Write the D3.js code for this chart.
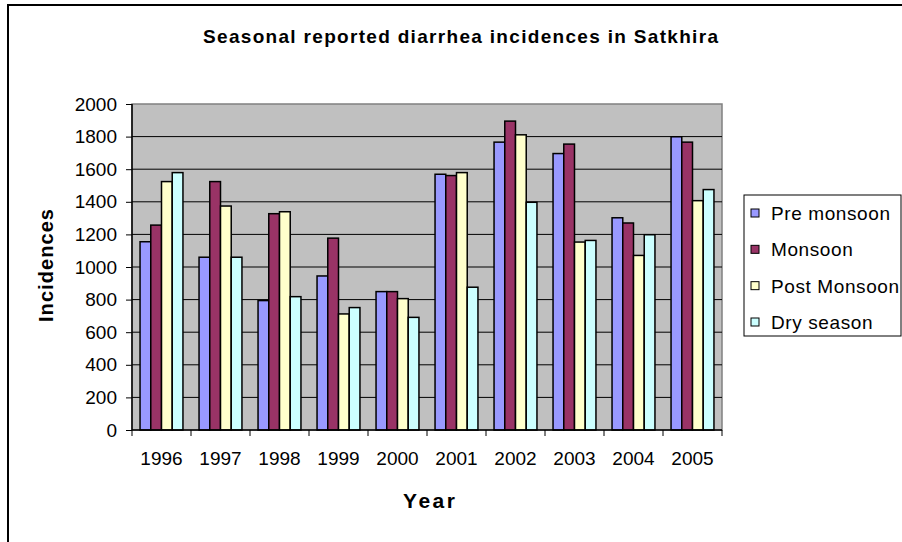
<!DOCTYPE html>
<html>
<head>
<meta charset="utf-8">
<script src="https://cdn.jsdelivr.net/npm/d3@7"></script>
<style>
  html, body { margin: 0; padding: 0; background: #fff; }
  svg { display: block; font-family: "Liberation Sans", Arial, sans-serif; }
</style>
</head>
<body>
<svg id="chart" width="902" height="542"></svg>
<script>
// Seasonal reported diarrhea incidences, Satkhira, 1996-2005
const years = ["1996","1997","1998","1999","2000","2001","2002","2003","2004","2005"];
const seriesNames = ["Pre monsoon", "Monsoon", "Post Monsoon", "Dry season"];
const preMonsoon  = [1155, 1060,  794,  945, 849, 1569, 1766, 1696, 1302, 1799];
const monsoon     = [1257, 1524, 1327, 1177, 849, 1561, 1895, 1754, 1270, 1766];
const postMonsoon = [1524, 1374, 1339,  712, 806, 1579, 1811, 1153, 1071, 1407];
const drySeason   = [1579, 1060,  818,  751, 691,  876, 1397, 1163, 1198, 1475];
const yTicks = [0, 200, 400, 600, 800, 1000, 1200, 1400, 1600, 1800, 2000];
const colors = ["#9999FF", "#993366", "#FFFFCC", "#CCFFFF"];

const seriesValues = [preMonsoon, monsoon, postMonsoon, drySeason];

const svg = d3.select("#chart");

// outer chart frame
svg.append("rect")
  .attr("x", 8).attr("y", 5).attr("width", 1200).attr("height", 1200)
  .attr("fill", "#fff").attr("stroke", "#000").attr("stroke-width", 2);

const plot = { left: 132, right: 722, top: 104, bottom: 430 };

const x = d3.scaleBand().domain(years).range([plot.left, plot.right]).padding(0);
const step = x.bandwidth();
const barW = step / 5.5;               // gap of 1.5 bar widths between groups
const xs = d3.scaleBand().domain(d3.range(4))
  .range([barW * 0.75, step - barW * 0.75]).padding(0);
const y = d3.scaleLinear().domain([0, 2000]).range([plot.bottom, plot.top]);

// plot area
svg.append("rect")
  .attr("x", plot.left).attr("y", plot.top)
  .attr("width", plot.right - plot.left).attr("height", plot.bottom - plot.top)
  .attr("fill", "#C0C0C0").attr("stroke", "#808080").attr("stroke-width", 1.5);

// gridlines
svg.append("g").selectAll("line")
  .data(yTicks.filter(v => v > 0 && v < 2000))
  .join("line")
  .attr("x1", plot.left).attr("x2", plot.right)
  .attr("y1", d => y(d)).attr("y2", d => y(d))
  .attr("stroke", "#000").attr("stroke-width", 1);

// bars
const groups = svg.append("g").selectAll("g")
  .data(years)
  .join("g")
  .attr("transform", d => `translate(${x(d)},0)`);

groups.selectAll("rect")
  .data((d, i) => seriesValues.map((vals, s) => ({ s, v: vals[i] })))
  .join("rect")
  .attr("x", d => xs(d.s))
  .attr("width", xs.bandwidth())
  .attr("y", d => y(d.v))
  .attr("height", d => y(0) - y(d.v))
  .attr("fill", d => colors[d.s])
  .attr("stroke", "#000")
  .attr("stroke-width", 1.5);

// y axis
const yAxis = svg.append("g")
  .attr("transform", `translate(${plot.left},0)`)
  .call(d3.axisLeft(y).tickValues(yTicks).tickSize(6).tickPadding(9).tickFormat(d3.format("d")));
yAxis.select(".domain").attr("stroke", "#000").attr("stroke-width", 1.5).attr("d", `M0,${plot.top}V${plot.bottom}`);
yAxis.selectAll(".tick line").attr("stroke", "#000");
yAxis.selectAll(".tick text")
  .attr("font-size", 19).attr("fill", "#000")
  .attr("font-family", "'Liberation Sans', Arial, sans-serif");

// x axis
const xAxis = svg.append("g")
  .attr("transform", `translate(0,${plot.bottom})`)
  .call(d3.axisBottom(x).tickSize(0).tickPadding(22));
xAxis.select(".domain").attr("stroke", "#000").attr("stroke-width", 1.5).attr("d", `M${plot.left},0H${plot.right}`);
xAxis.selectAll(".tick text")
  .attr("font-size", 19).attr("fill", "#000")
  .attr("font-family", "'Liberation Sans', Arial, sans-serif");

// category boundary ticks
svg.append("g").selectAll("line")
  .data(years.concat(["end"]))
  .join("line")
  .attr("x1", (d, i) => i < years.length ? x(d) : plot.right)
  .attr("x2", (d, i) => i < years.length ? x(d) : plot.right)
  .attr("y1", plot.bottom).attr("y2", plot.bottom + 6)
  .attr("stroke", "#000").attr("stroke-width", 1);

// title
svg.append("text")
  .attr("x", 203).attr("y", 43)
  .attr("font-size", 19).attr("font-weight", "bold")
  .attr("textLength", 515).attr("lengthAdjust", "spacing")
  .text("Seasonal reported diarrhea incidences in Satkhira");

// axis titles
svg.append("text")
  .attr("x", 403).attr("y", 508)
  .attr("font-size", 21).attr("font-weight", "bold")
  .attr("textLength", 52).attr("lengthAdjust", "spacing")
  .text("Year");

svg.append("text")
  .attr("transform", "translate(53,322) rotate(-90)")
  .attr("font-size", 20).attr("font-weight", "bold")
  .attr("textLength", 113).attr("lengthAdjust", "spacing")
  .text("Incidences");

// legend
const legend = svg.append("g");
legend.append("rect")
  .attr("x", 744).attr("y", 195).attr("width", 157).attr("height", 141)
  .attr("fill", "#fff").attr("stroke", "#000").attr("stroke-width", 1);
const rowY = d3.scalePoint().domain(seriesNames).range([213, 322]);
const items = legend.selectAll("g.item")
  .data(seriesNames)
  .join("g").attr("class", "item")
  .attr("transform", d => `translate(0,${rowY(d)})`);
items.append("rect")
  .attr("x", 751).attr("y", -4).attr("width", 8).attr("height", 8)
  .attr("fill", (d, i) => colors[i]).attr("stroke", "#000").attr("stroke-width", 1);
items.append("text")
  .attr("x", 771).attr("y", 7)
  .attr("font-size", 19).attr("letter-spacing", 0.6)
  .text(d => d);
</script>
</body>
</html>
